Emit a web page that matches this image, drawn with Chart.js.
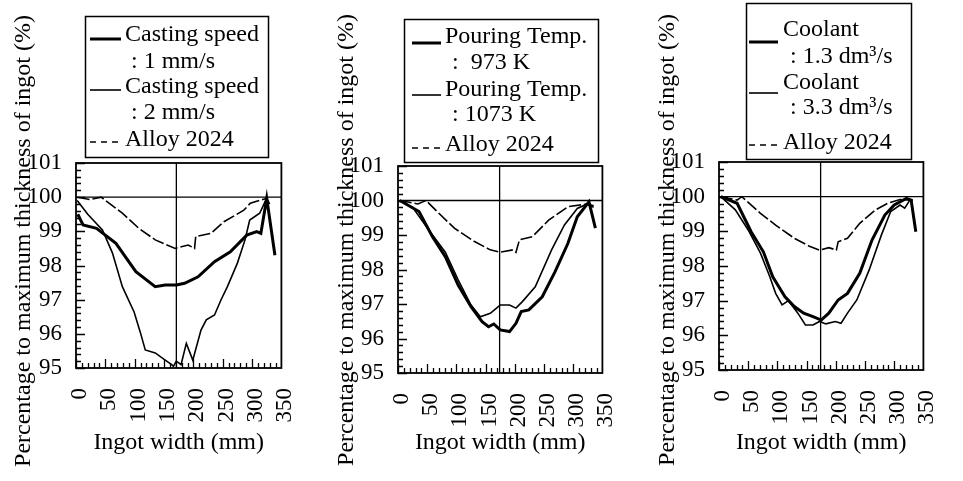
<!DOCTYPE html>
<html>
<head>
<meta charset="utf-8">
<script src="https://cdn.jsdelivr.net/npm/chart.js@4.4.1/dist/chart.umd.min.js"></script>
<style>
  body { margin: 0; background: #fff; }
  .panel { position: absolute; top: 0; width: 321px; height: 481px; }
</style>
</head>
<body>
<div class="panel" style="left:0"><canvas id="c1" width="321" height="481"></canvas></div>
<div class="panel" style="left:321px"><canvas id="c2" width="321" height="481"></canvas></div>
<div class="panel" style="left:642px"><canvas id="c3" width="321" height="481"></canvas></div>
<script>
// ---- data (x = ingot width mm, y = % of max thickness)
const widthTicks = [0, 50, 100, 150, 200, 250, 300, 350];
const pctTicks = [95, 96, 97, 98, 99, 100, 101];
const centerWidth = [171, 174, 174];
const refPct = 100;

// panel 1 - casting speed
const speed1X = [3, 12, 35, 68, 102, 135, 152, 171, 185, 208, 236, 263, 291, 308, 315, 325, 339];
const speed1Y = [99.5, 99.19, 99.09, 98.65, 97.82, 97.38, 97.43, 97.43, 97.48, 97.67, 98.11, 98.4, 98.89, 98.99, 98.94, 99.97, 98.3];
const speed2X = [2, 20, 45, 62, 79, 99, 110, 118, 135, 152, 163, 166, 171, 179, 188, 199, 213, 222, 236, 247, 258, 275, 288, 296, 313, 325, 330];
const speed2Y = [99.9, 99.5, 99.04, 98.37, 97.38, 96.64, 96.02, 95.53, 95.44, 95.23, 95.1, 95.05, 95.2, 95.1, 95.72, 95.23, 96.11, 96.41, 96.55, 96.99, 97.38, 98.07, 98.75, 99.33, 99.53, 99.97, 99.8];
const alloy1X = [3, 23, 43, 79, 107, 135, 169, 191, 202, 204, 230, 252, 286, 297, 325];
const alloy1Y = [100, 99.93, 100, 99.53, 99.09, 98.75, 98.5, 98.6, 98.5, 98.85, 98.94, 99.28, 99.62, 99.82, 99.97];

// panel 2 - pouring temperature
const temp973X = [3, 36, 59, 81, 103, 125, 144, 155, 164, 175, 191, 202, 211, 224, 247, 269, 291, 307, 327, 338];
const temp973Y = [100, 99.68, 98.95, 98.37, 97.55, 96.92, 96.49, 96.34, 96.42, 96.25, 96.2, 96.44, 96.78, 96.83, 97.21, 97.94, 98.76, 99.53, 99.96, 99.2];
const temp1073X = [3, 25, 53, 81, 103, 125, 141, 158, 175, 191, 202, 213, 235, 263, 285, 307, 324, 335];
const temp1073Y = [100, 99.8, 99.14, 98.5, 97.7, 96.97, 96.63, 96.73, 96.97, 96.97, 96.88, 97.07, 97.5, 98.57, 99.29, 99.77, 99.9, 99.85];
const alloy2X = [3, 34, 48, 70, 97, 131, 158, 175, 197, 202, 208, 230, 258, 291, 324, 335];
const alloy2Y = [100, 99.9, 100, 99.63, 99.19, 98.81, 98.57, 98.5, 98.57, 98.5, 98.86, 98.95, 99.43, 99.82, 99.9, 99.8];

// panel 3 - coolant flow
const cool13X = [3, 31, 55, 76, 92, 113, 129, 145, 161, 175, 188, 204, 220, 241, 262, 284, 300, 321, 329, 337];
const cool13Y = [100, 99.81, 98.99, 98.41, 97.69, 97.11, 96.83, 96.64, 96.54, 96.44, 96.64, 97.02, 97.21, 97.79, 98.75, 99.47, 99.76, 99.95, 99.9, 98.99];
const cool33X = [3, 28, 50, 71, 87, 97, 108, 119, 135, 148, 161, 172, 183, 199, 209, 220, 236, 257, 278, 294, 310, 318, 326];
const cool33Y = [100, 99.62, 99.04, 98.37, 97.69, 97.21, 96.88, 97.0, 96.64, 96.3, 96.3, 96.4, 96.33, 96.4, 96.35, 96.64, 97.02, 97.88, 98.89, 99.57, 99.76, 99.67, 99.88];
const alloy3X = [3, 31, 39, 71, 97, 129, 156, 172, 188, 201, 204, 220, 241, 268, 289, 310, 332];
const alloy3Y = [100, 99.9, 100, 99.52, 99.18, 98.8, 98.56, 98.46, 98.53, 98.46, 98.7, 98.8, 99.23, 99.62, 99.81, 99.92, 99.9];

const legend1 = [['Casting speed', ': 1 mm/s'], ['Casting speed', ': 2 mm/s'], ['Alloy 2024']];
const legend2 = [['Pouring Temp.', ':  973 K'], ['Pouring Temp.', ': 1073 K'], ['Alloy 2024']];
const legend3 = [['Coolant', ': 1.3 dm\u00B3/s'], ['Coolant', ': 3.3 dm\u00B3/s'], ['Alloy 2024']];

Chart.defaults.font.family = "'Liberation Serif', 'Times New Roman', serif";
Chart.defaults.color = '#000';

const SERIF = "'Liberation Serif', 'Times New Roman', serif";

function pts(xs, ys) {
  return xs.map((x, i) => ({ x: x, y: ys[i] }));
}

// frame, inward ticks, reference lines, boxed legend and y title
const figureDeco = {
  id: 'figureDeco',
  beforeDatasetsDraw(chart, args, opts) {
    const { ctx, chartArea: a, scales: { x, y } } = chart;
    ctx.save();
    ctx.strokeStyle = '#000';
    ctx.lineWidth = 1.3;
    const yRef = y.getPixelForValue(refPct);
    const xMid = x.getPixelForValue(opts.centerX);
    ctx.beginPath();
    ctx.moveTo(a.left, yRef); ctx.lineTo(a.right, yRef);
    ctx.moveTo(xMid, a.top); ctx.lineTo(xMid, a.bottom);
    ctx.stroke();
    ctx.restore();
  },
  afterDraw(chart, args, opts) {
    const { ctx, chartArea: a, scales: { x, y } } = chart;
    ctx.save();
    ctx.strokeStyle = '#000';
    ctx.fillStyle = '#000';

    // plot frame
    ctx.lineWidth = 1.8;
    ctx.strokeRect(a.left, a.top, a.right - a.left, a.bottom - a.top);

    // inward tick marks
    ctx.lineWidth = 1.3;
    ctx.beginPath();
    for (let i = 0; i <= 30; i++) {
      const py = Math.round(y.getPixelForValue(95 + i * 0.2)) + 0.5;
      const len = i % 5 === 0 ? 9 : 5;
      ctx.moveTo(a.left, py); ctx.lineTo(a.left + len, py);
    }
    for (let m = 0; m <= 350; m += 10) {
      const px = Math.round(x.getPixelForValue(m)) + 0.5;
      if (px > a.right) break;
      const len = m % 50 === 0 ? 9 : 5;
      ctx.moveTo(px, a.bottom); ctx.lineTo(px, a.bottom - len);
    }
    ctx.stroke();

    // boxed legend
    const L = opts.legend;
    ctx.lineWidth = 1.5;
    ctx.strokeRect(L.box[0] + 0.5, L.box[1] + 0.5, L.box[2], L.box[3]);
    ctx.font = '24px ' + SERIF;
    ctx.textBaseline = 'middle';
    ctx.textAlign = 'left';
    let row = 0;
    opts.labels.forEach((lines, k) => {
      const ds = chart.data.datasets[k];
      ctx.save();
      ctx.lineWidth = ds.borderWidth;
      ctx.setLineDash(ds.borderDash && ds.borderDash.length ? [6, 5] : []);
      ctx.beginPath();
      ctx.moveTo(L.sample[0], L.sampleY[k]);
      ctx.lineTo(L.sample[1], L.sampleY[k]);
      ctx.stroke();
      ctx.restore();
      lines.forEach((t, j) => {
        ctx.fillText(t, j === 0 ? L.textX : L.contX, L.rowY[row]);
        row++;
      });
    });

    // y axis title
    ctx.translate(opts.yTitle[0], opts.yTitle[1]);
    ctx.rotate(-Math.PI / 2);
    ctx.textAlign = 'center';
    ctx.fillText('Percentage to maximum thickness of ingot (%)', 0, 0);
    ctx.restore();
  }
};

function makeChart(id, series, area, deco) {
  const styles = [
    { borderWidth: 3, borderDash: [] },
    { borderWidth: 1.6, borderDash: [] },
    { borderWidth: 1.6, borderDash: [12, 3] }
  ];
  return new Chart(document.getElementById(id), {
    type: 'line',
    data: {
      datasets: series.map((s, i) => ({
        label: deco.labels[i].join(' '),
        data: pts(s[0], s[1]),
        borderColor: '#000',
        borderWidth: styles[i].borderWidth,
        borderDash: styles[i].borderDash,
        pointRadius: 0,
        fill: false,
        tension: 0
      }))
    },
    options: {
      responsive: false,
      animation: false,
      devicePixelRatio: 1,
      layout: { padding: { top: area.top, right: 321 - area.right, left: 0, bottom: 0 } },
      plugins: {
        legend: { display: false },
        tooltip: { enabled: false },
        figureDeco: deco
      },
      scales: {
        x: {
          type: 'linear',
          min: 0,
          max: 350,
          afterBuildTicks: s => { s.ticks = widthTicks.map(v => ({ value: v })); },
          afterFit: s => { s.height = 481 - area.bottom; },
          grid: { display: false },
          border: { display: false },
          ticks: { minRotation: 90, maxRotation: 90, padding: 12, labelOffset: 4, font: { size: 23 }, color: '#000', autoSkip: false },
          title: { display: true, text: 'Ingot width (mm)', font: { size: 24, lineHeight: 1.2 }, color: '#000', padding: { top: 0, bottom: 24 } }
        },
        y: {
          min: 95,
          max: 101,
          afterBuildTicks: s => { s.ticks = pctTicks.map(v => ({ value: v })); },
          afterFit: s => { s.width = area.left; },
          grid: { display: false },
          border: { display: false },
          ticks: { padding: 6, font: { size: 23 }, color: '#000' }
        }
      }
    },
    plugins: [figureDeco]
  });
}

makeChart('c1',
  [[speed1X, speed1Y], [speed2X, speed2Y], [alloy1X, alloy1Y]],
  { left: 76, right: 285, top: 163, bottom: 368 },
  {
    centerX: centerWidth[0], labels: legend1, yTitle: [24, 241],
    legend: { box: [85, 16, 183, 141], sample: [90, 121], sampleY: [39, 90, 142], textX: 125, contX: 131, rowY: [35, 62, 87, 113, 140] }
  });

makeChart('c2',
  [[temp973X, temp973Y], [temp1073X, temp1073Y], [alloy2X, alloy2Y]],
  { left: 77, right: 288, top: 166, bottom: 373 },
  {
    centerX: centerWidth[1], labels: legend2, yTitle: [26, 240],
    legend: { box: [83, 19, 194, 143], sample: [91, 120], sampleY: [43, 95, 148], textX: 124, contX: 131, rowY: [37, 63, 90, 115, 145] }
  });

makeChart('c3',
  [[cool13X, cool13Y], [cool33X, cool33Y], [alloy3X, alloy3Y]],
  { left: 77, right: 296, top: 162, bottom: 370 },
  {
    centerX: centerWidth[2], labels: legend3, yTitle: [26, 240],
    legend: { box: [104, 3, 165, 156], sample: [107, 136], sampleY: [42, 93, 145], textX: 141, contX: 148, rowY: [30, 57, 83, 108, 143] }
  });
</script>
</body>
</html>
